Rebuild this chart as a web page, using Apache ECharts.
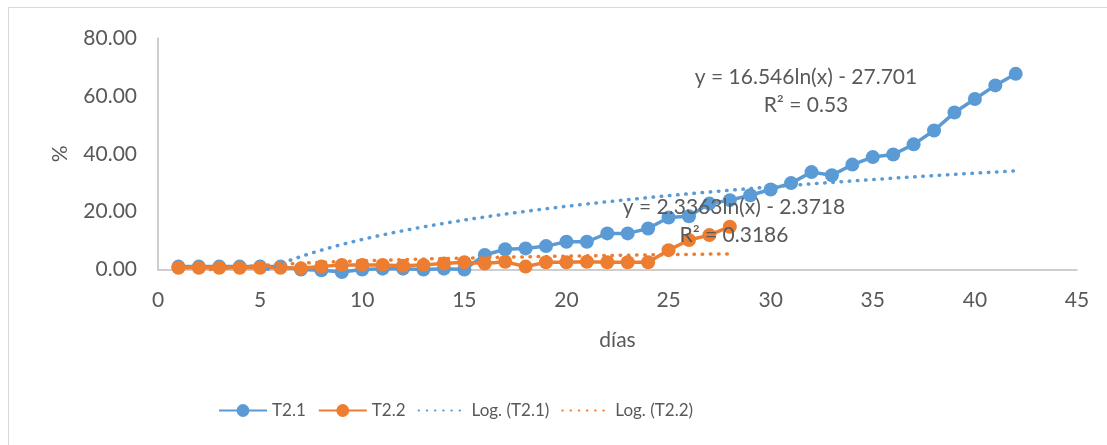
<!DOCTYPE html>
<html>
<head>
<meta charset="utf-8">
<title>T2.1 / T2.2</title>
<script src="https://cdn.jsdelivr.net/npm/echarts@6/dist/echarts.min.js"></script>
<style>
  html, body { margin: 0; padding: 0; background: #ffffff; }
  #chart { width: 1107px; height: 445px; }
</style>
</head>
<body>
<div id="chart"></div>
<script>
// Days (x values)
const daysT21 = [1,2,3,4,5,6,7,8,9,10,11,12,13,14,15,16,17,18,19,20,21,22,23,24,25,26,27,28,29,30,31,32,33,34,35,36,37,38,39,40,41,42];
const daysT22 = [1,2,3,4,5,6,7,8,9,10,11,12,13,14,15,16,17,18,19,20,21,22,23,24,25,26,27,28];

// Series values (%)
const valuesT21 = [1.0,1.0,1.0,1.0,1.0,1.0,0.0,-0.3,-0.9,0.0,0.3,0.3,0.0,0.3,0.0,5.0,7.0,7.3,8.1,9.6,9.6,12.5,12.5,14.2,18.0,18.4,22.8,24.0,25.7,27.7,29.9,33.7,32.6,36.3,38.9,39.8,43.3,48.1,54.3,59.0,63.7,67.7];
const valuesT22 = [0.6,0.6,0.6,0.6,0.6,0.6,0.4,1.0,1.6,1.6,1.6,1.3,1.6,2.1,2.5,2.1,2.7,1.0,2.5,2.5,2.7,2.5,2.5,2.5,6.7,10.2,11.9,14.8];

// Logarithmic trendline coefficients: y = a*ln(x) + b
const trendT21 = [16.546, -27.701];
const trendT22 = [2.3363, -2.3718];
const r2T21 = 0.53;
const r2T22 = 0.3186;

// Axis ticks
const xTicks = [0, 45, 5];
const yTicks = [0, 80, 20];

// Series names
const names = ['T2.1', 'T2.2', 'Log. (T2.1)', 'Log. (T2.2)'];

const BLUE = '#5B9BD5';
const ORANGE = '#ED7D31';
const TEXT = '#595959';
const FONT = 'Lato, "Noto Sans", sans-serif';

function pairs(xs, ys) { return xs.map((x, i) => [x, ys[i]]); }

// Fitted log curve sampled over the data's x range
function logCurve(coef, x0, x1) {
  const pts = [];
  for (let x = x0; x <= x1 + 1e-9; x += 0.25) pts.push([x, coef[0] * Math.log(x) + coef[1]]);
  return pts;
}

function eqText(coef) {
  const b = coef[1];
  return 'y = ' + coef[0] + 'ln(x) ' + (b < 0 ? '- ' : '+ ') + Math.abs(b);
}

const chart = echarts.init(document.getElementById('chart'), null, { renderer: 'canvas' });

const dotted = (color) => ({ color: color, width: 3.5, type: [0.5, 7.7], cap: 'round' });

chart.setOption({
  backgroundColor: '#ffffff',
  animation: false,
  textStyle: { fontFamily: FONT },
  grid: { left: 158, right: 30, top: 38.3, bottom: 175.5 },
  xAxis: {
    type: 'value',
    min: xTicks[0], max: xTicks[1], interval: xTicks[2],
    name: 'días',
    nameLocation: 'middle',
    nameGap: 60,
    nameTextStyle: { color: TEXT, fontSize: 21, fontFamily: FONT },
    axisLine: { show: true, lineStyle: { color: '#bfbfbf', width: 1.5 } },
    axisTick: { show: false },
    splitLine: { show: false },
    axisLabel: { color: TEXT, fontSize: 21, margin: 20, fontFamily: FONT }
  },
  yAxis: {
    type: 'value',
    min: yTicks[0], max: yTicks[1], interval: yTicks[2],
    name: '%',
    nameLocation: 'middle',
    nameGap: 87,
    nameTextStyle: { color: TEXT, fontSize: 21, fontFamily: FONT },
    axisLine: { show: true, lineStyle: { color: '#bfbfbf', width: 1.5 } },
    axisTick: { show: false },
    splitLine: { show: false },
    axisLabel: { color: TEXT, fontSize: 21, margin: 21, fontFamily: FONT,
      formatter: (v) => v.toFixed(2) }
  },
  legend: {
    left: 213,
    top: 397,
    itemWidth: 48,
    itemHeight: 16,
    itemGap: 12,
    textStyle: { color: TEXT, fontSize: 17, fontFamily: FONT },
    data: [
      names[0],
      names[1],
      { name: names[2], itemStyle: { opacity: 0 } },
      { name: names[3], itemStyle: { opacity: 0 } }
    ]
  },
  series: [
    {
      name: names[0], type: 'line', clip: false,
      data: pairs(daysT21, valuesT21),
      symbol: 'circle', symbolSize: 14,
      itemStyle: { color: BLUE },
      lineStyle: { color: BLUE, width: 3.5 },
      z: 2
    },
    {
      name: names[1], type: 'line', clip: false,
      data: pairs(daysT22, valuesT22),
      symbol: 'circle', symbolSize: 14,
      itemStyle: { color: ORANGE },
      lineStyle: { color: ORANGE, width: 3.5 },
      z: 3
    },
    {
      name: names[2], type: 'line', clip: true,
      data: logCurve(trendT21, daysT21[0], daysT21[daysT21.length - 1]),
      symbol: 'none', showSymbol: false,
      itemStyle: { color: BLUE, opacity: 0 },
      lineStyle: dotted(BLUE),
      z: 4
    },
    {
      name: names[3], type: 'line', clip: true,
      data: logCurve(trendT22, daysT22[0], daysT22[daysT22.length - 1]),
      symbol: 'none', showSymbol: false,
      itemStyle: { color: ORANGE, opacity: 0 },
      lineStyle: dotted(ORANGE),
      z: 4
    }
  ],
  graphic: [
    { type: 'rect', shape: { x: 8.5, y: 7.5, width: 1120, height: 460 },
      style: { fill: 'none', stroke: '#d9d9d9', lineWidth: 1 }, silent: true, z: -1 },
    { type: 'text', x: 806, y: 77, z: 100,
      style: { text: eqText(trendT21), fill: TEXT, font: '21px ' + FONT, align: 'center', verticalAlign: 'middle' } },
    { type: 'text', x: 806, y: 105, z: 100,
      style: { text: 'R² = ' + r2T21, fill: TEXT, font: '21px ' + FONT, align: 'center', verticalAlign: 'middle' } },
    { type: 'text', x: 734, y: 207, z: 100,
      style: { text: eqText(trendT22), fill: TEXT, font: '21px ' + FONT, align: 'center', verticalAlign: 'middle' } },
    { type: 'text', x: 734, y: 235, z: 100,
      style: { text: 'R² = ' + r2T22, fill: TEXT, font: '21px ' + FONT, align: 'center', verticalAlign: 'middle' } }
  ]
});
</script>
</body>
</html>
